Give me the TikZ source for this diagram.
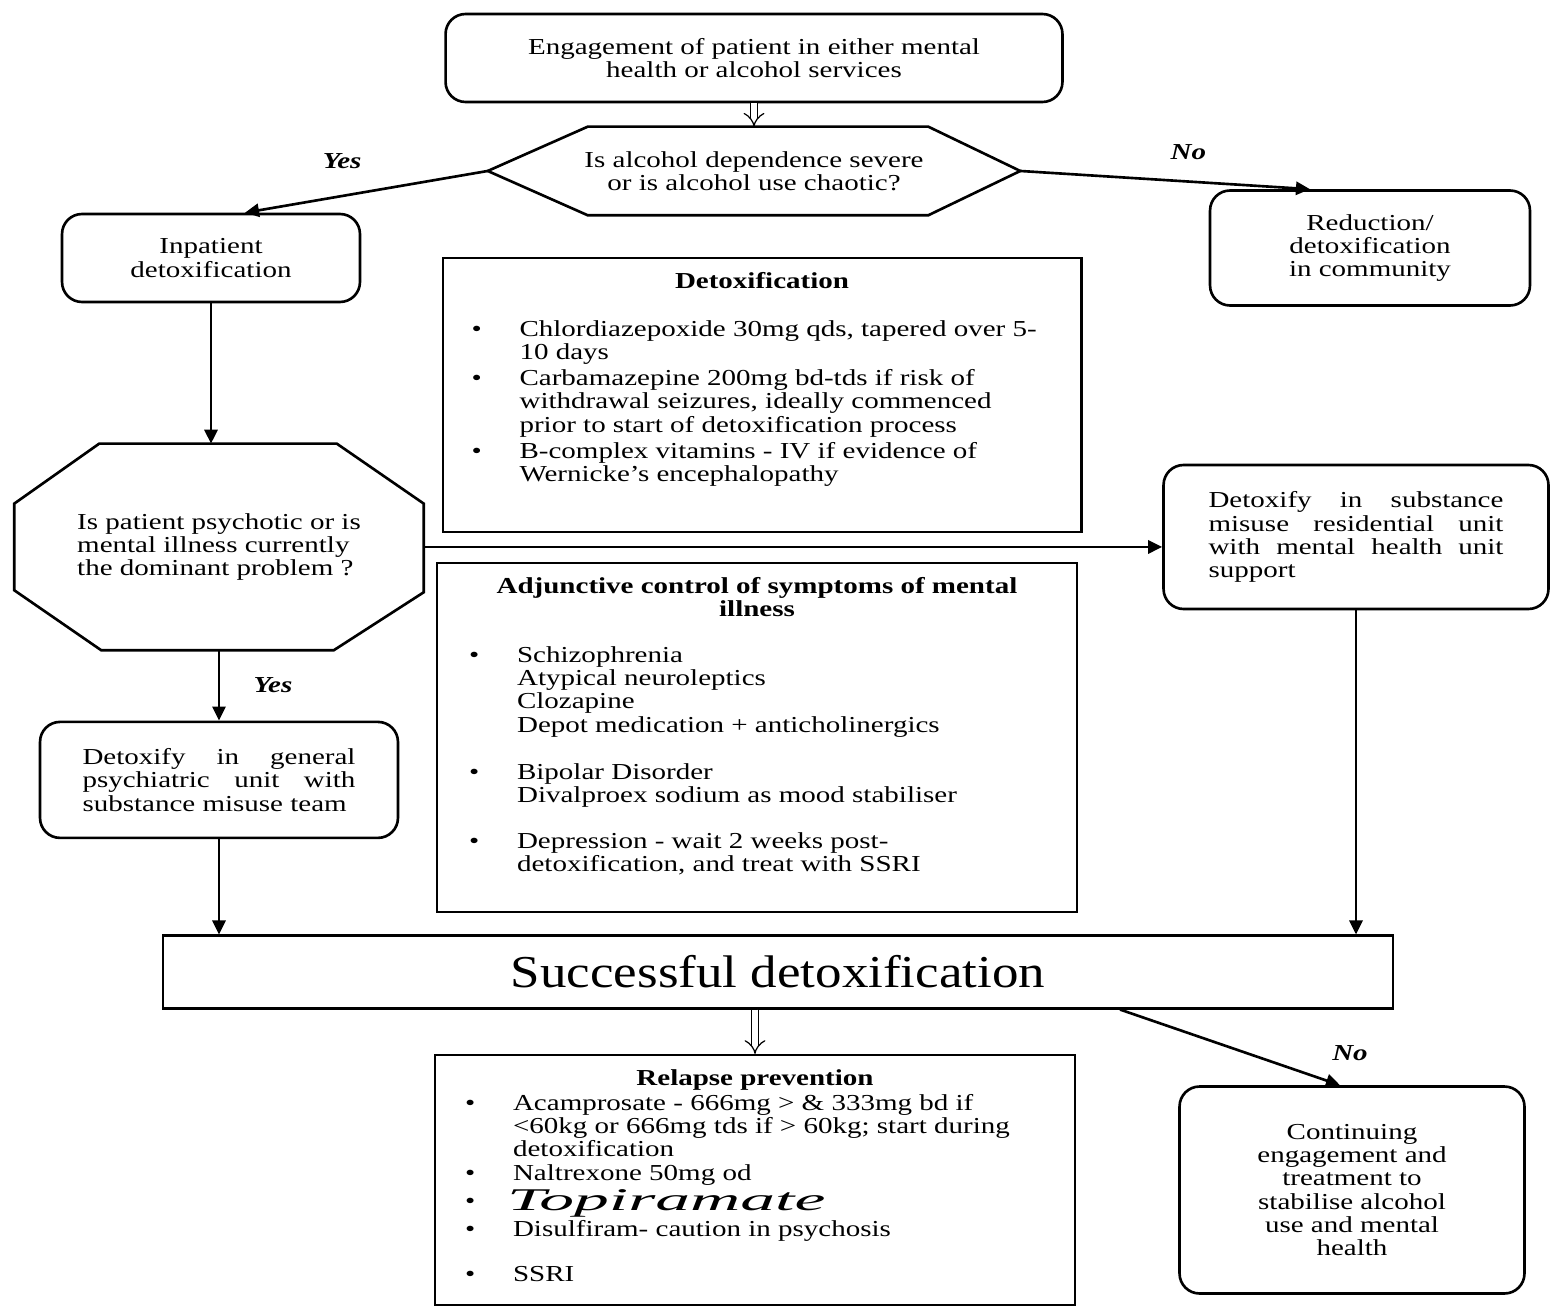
\documentclass[tikz,border=0pt]{standalone}
\usepackage{fontspec}
\setmainfont{Liberation Serif}[FakeStretch=1.27]
\newfontfamily\bigfont{Liberation Serif}[FakeStretch=1.16]
\newfontfamily\handfont{Liberation Serif}[FakeStretch=2.2]
\usetikzlibrary{arrows.meta,positioning,calc}

\newcommand{\bul}{\par\hangindent=0.96cm\hangafter=1\noindent\hbox to 0.96cm{\textbullet\hfil}}
\newcommand{\jline}[2]{\makebox[#1][s]{#2}}

\begin{document}
\begin{tikzpicture}[x=0.02cm,y=-0.02cm,->,>={Triangle[length=8pt,width=7.5pt]},line width=1.5pt,
        font=\fontsize{13}{13.2}\selectfont,
        round node/.style={draw,rounded corners=0.4cm,align=center,inner sep=0pt},
        info node/.style={draw,line width=1.2pt,inner sep=0pt},
        lab/.style={font=\fontsize{13}{13.2}\selectfont\bfseries\itshape},
        dbl/.style={double,double distance=3.5pt,line width=0.7pt,-{Implies}}]

        \useasboundingbox (0,0) rectangle (1550,1310);

        \node[round node, minimum width=12.34cm, minimum height=1.76cm] (1) at (754,58)
            {Engagement of patient in either mental\\health or alcohol services};
        \node[align=center, minimum width=10.6cm, minimum height=1.72cm, inner sep=0pt] (2) [below of=1, node distance=2.26cm]
            {Is alcohol dependence severe\\or is alcohol use chaotic?};
        \node[round node, minimum width=5.96cm, minimum height=1.76cm] (3) at (211,258)
            {Inpatient\\detoxification};
        \node[round node, minimum width=6.4cm, minimum height=2.3cm] (4) at (1370,248)
            {Reduction/\\detoxification\\in community};

        \node[info node, inner xsep=0.58cm, inner ysep=0.28cm] (5) at (762,395)
            {\parbox[t][4.92cm][t]{11.62cm}{\parskip=0.06cm
            {\centering\bfseries Detoxification\par}\vspace{0.44cm}
            \bul Chlordiazepoxide 30mg qds, tapered over 5-\newline 10 days
            \bul Carbamazepine 200mg bd-tds if risk of\newline withdrawal seizures, ideally commenced\newline prior to start of detoxification process
            \bul B-complex vitamins - IV if evidence of\newline Wernicke’s encephalopathy}};

        \node[align=left, minimum width=8.14cm, minimum height=4.08cm, inner sep=0pt] (6) [below of=3, node distance=5.78cm, xshift=0.16cm]
            {Is patient psychotic or is\\mental illness currently\\the dominant problem ?};
        \node[round node, align=left, minimum width=7.7cm, minimum height=2.88cm] (7) at (1356,537)
            {\jline{5.9cm}{Detoxify in substance}\\\jline{5.9cm}{misuse residential unit}\\\jline{5.9cm}{with mental health unit}\\support};

        \node[info node, inner xsep=0.64cm, inner ysep=0.28cm] (8) [below of=5, node distance=6.85cm, xshift=-0.1cm]
            {\parbox[t][6.42cm][t]{11.52cm}{
            {\centering\bfseries Adjunctive control of symptoms of mental\\illness\par}\vspace{0.46cm}
            \bul Schizophrenia\newline Atypical neuroleptics\newline Clozapine\newline Depot medication + anticholinergics
            \par\vspace{0.48cm}
            \bul Bipolar Disorder\newline Divalproex sodium as mood stabiliser
            \par\vspace{0.46cm}
            \bul Depression - wait 2 weeks post-\newline detoxification, and treat with SSRI}};

        \node[round node, align=left, minimum width=7.16cm, minimum height=2.32cm] (9) [below of=6, node distance=4.66cm]
            {\jline{5.46cm}{Detoxify in general}\\\jline{5.46cm}{psychiatric unit with}\\substance misuse team};

        \node[info node, minimum width=24.62cm, minimum height=1.46cm, font=\bigfont\fontsize{26}{26}\selectfont] (10) at (778,972)
            {Successful detoxification};

        \node[info node, inner xsep=0.6cm, inner ysep=0.3cm] (11) [below of=10, node distance=4.16cm, xshift=-0.46cm]
            {\parbox[t][4.4cm][t]{11.6cm}{\parskip=0.02cm
            {\centering\bfseries Relapse prevention\par}
            \bul Acamprosate - 666mg > \& 333mg bd if\newline <60kg or 666mg tds if > 60kg; start during\newline detoxification
            \bul Naltrexone 50mg od
            \par\vspace{0.08cm}\noindent\hbox to 0.84cm{\textbullet\hfil}\smash{\raisebox{-0.04cm}{\handfont\fontsize{18}{18}\selectfont\itshape Topiramate}}
            \par\vspace{0.08cm}
            \bul Disulfiram- caution in psychosis
            \par\vspace{0.4cm}
            \bul SSRI}};

        \node[round node, minimum width=6.9cm, minimum height=4.14cm] (12) at (1352,1190)
            {Continuing\\engagement and\\treatment to\\stabilise alcohol\\use and mental\\health};

        % decision shapes
        \draw[-] (2.west) -- ($(2.north west)+(100,0)$) -- ($(2.north east)+(-92,0)$) -- (2.east)
            -- ($(2.south east)+(-92,0)$) -- ($(2.south west)+(100,0)$) -- cycle;
        \draw[-] ($(6.north west)+(85,0)$) -- ($(6.north east)+(-87,0)$) -- ($(6.north east)+(0,60)$)
            -- ($(6.south east)+(0,-58)$) -- ($(6.south east)+(-90,0)$) -- ($(6.south west)+(87,0)$)
            -- ($(6.south west)+(0,-60)$) -- ($(6.north west)+(0,60)$) -- cycle;

        \path[every node/.style={lab}]
            (2.west) edge node[pos=0.6, above=0.4cm] {Yes} ($(3.north)+(34,0)$)
            (2.east) edge node[pos=0.58, above=0.3cm] {No} ($(4.north)+(-60,0)$)
            (3.south) edge (3.south |- 6.north)
            (6.east) edge (6.east -| 7.west)
            (6.south) edge node[right=0.55cm] {Yes} (9.north)
            (9.south) edge (9.south |- 10.north)
            (7.south) edge (7.south |- 10.north)
            ($(10.south)+(342,0)$) edge node[pos=1, above=0.35cm, xshift=0.2cm] {No} ($(12.north)+(-12,0)$);
        \path (1.south) edge[dbl] (2.north)
              (11.north |- 10.south) edge[dbl] (11.north);
\end{tikzpicture}
\end{document}
